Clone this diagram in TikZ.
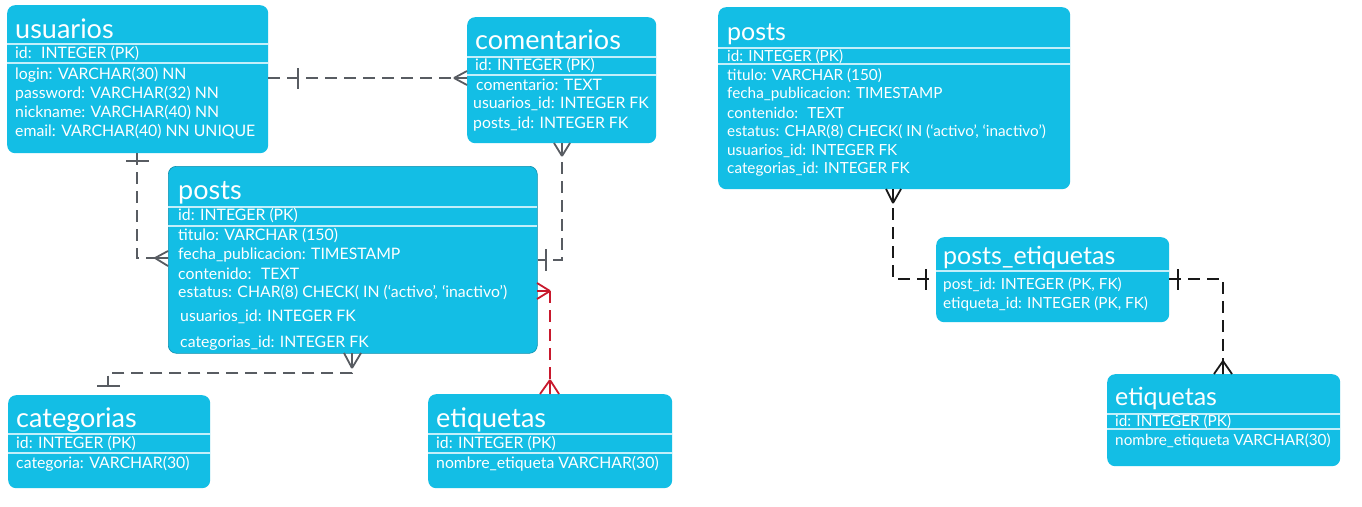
\documentclass[tikz,border=0pt]{standalone}
\usepackage{fontspec}
\setmainfont{Lato}
\usetikzlibrary{calc}
\definecolor{boxc}{RGB}{19,190,229}
\definecolor{sepc}{RGB}{195,239,250}
\definecolor{linec}{RGB}{88,92,98}
\definecolor{blk}{RGB}{25,25,25}
\definecolor{redc}{RGB}{200,25,45}
\begin{document}
\begin{tikzpicture}[x=1pt,y=-1pt,
  tbl/.style={fill=boxc, rounded corners=8pt, anchor=north west, inner sep=0pt},
  ttl/.style={anchor=base west, text=white, font=\fontsize{27}{27}\selectfont, inner sep=0pt},
  ttlr/.style={anchor=base west, text=white, font=\fontsize{25}{25}\selectfont, inner sep=0pt},
  fld/.style={anchor=west, text=white, font=\fontsize{15.8}{15.8}\selectfont, inner sep=0pt},
  fldr/.style={anchor=west, text=white, font=\fontsize{15.3}{15.3}\selectfont, inner sep=0pt},
  sepl/.style={draw=sepc, line width=1.3pt},
  conn/.style={draw=linec, line width=1.8pt, dash pattern=on 12pt off 7pt},
  tk/.style={draw=linec, line width=1.8pt},
  connk/.style={draw=blk, line width=1.8pt, dash pattern=on 12pt off 7pt},
  tkk/.style={draw=blk, line width=1.8pt},
  connr/.style={draw=redc, line width=1.8pt, dash pattern=on 12pt off 7pt},
  tkr/.style={draw=redc, line width=1.8pt}]
\fill[white] (0,0) rectangle (1362,506);
\useasboundingbox (0,0) rectangle (1362,506);

% ---------- left panel ----------
% usuarios
\node[tbl, minimum width=261pt, minimum height=148pt] (usu) at (7,5) {};
\draw[sepl] (7,44) -- (268,44);
\draw[sepl] (7,63) -- (268,63);
\node[ttl] (usuT) at (15,38) {usuarios};
\node[fld] (usu1) at (15,54) {id:~ INTEGER (PK)};
\node[fld] (usu2) at (15,75) {login: VARCHAR(30) NN};
\node[fld] (usu3) at (15,94) {password: VARCHAR(32) NN};
\node[fld] (usu4) at (15,113) {nickname: VARCHAR(40) NN};
\node[fld] (usu5) at (15,132) {email: VARCHAR(40) NN UNIQUE};

% comentarios
\node[tbl, minimum width=189pt, minimum height=126pt] (com) at (467,17) {};
\draw[sepl] (467,57) -- (656,57);
\draw[sepl] (467,75) -- (656,75);
\node[ttl] (comT) at (475,49) {comentarios};
\node[fld] (com1) at (475,66) {id: INTEGER (PK)};
\node[fld] (com2) at (476,85) {comentario: TEXT};
\node[fld] (com3) at (473,104) {usuarios\_id: INTEGER FK};
\node[fld] (com4) at (473,124) {posts\_id: INTEGER FK};

% posts
\node[tbl, draw=boxc!75!black, line width=0.6pt, minimum width=369pt, minimum height=187pt] (pos) at (168,166) {};
\draw[sepl] (168,207) -- (537,207);
\draw[sepl] (168,226) -- (537,226);
\node[ttl] (posT) at (178,199) {posts};
\node[fld] (pos1) at (178,216) {id: INTEGER (PK)};
\node[fld] (pos2) at (178,236) {titulo: VARCHAR (150)};
\node[fld] (pos3) at (178,255) {fecha\_publicacion: TIMESTAMP};
\node[fld] (pos4) at (178,274) {contenido:~ TEXT};
\node[fld] (pos5) at (178,293) {estatus: CHAR(8) CHECK( IN (‘activo’, ‘inactivo’)};
\node[fld] (pos6) at (180,317) {usuarios\_id: INTEGER FK};
\node[fld] (pos7) at (180,343) {categorias\_id: INTEGER FK};

% categorias
\node[tbl, minimum width=202pt, minimum height=93pt] (cat) at (8,395) {};
\draw[sepl] (8,434) -- (210,434);
\draw[sepl] (8,453) -- (210,453);
\node[ttl] (catT) at (16,427) {categorias};
\node[fld] (cat1) at (16,444) {id: INTEGER (PK)};
\node[fld] (cat2) at (16,464) {categoria: VARCHAR(30)};

% etiquetas (left)
\node[tbl, minimum width=244pt, minimum height=94pt] (eti) at (428,394) {};
\draw[sepl] (428,434) -- (672,434);
\draw[sepl] (428,453) -- (672,453);
\node[ttl] (etiT) at (436,427) {etiquetas};
\node[fld] (eti1) at (436,444) {id: INTEGER (PK)};
\node[fld] (eti2) at (436,464) {nombre\_etiqueta VARCHAR(30)};

% connectors (left)
\coordinate (y78) at (0,78);
\draw[conn] (usu.east |- y78) -- (com.west |- y78);
\draw[tk] (298,68) -- (298,89);
\draw[tk] (454,78) -- (467,71) (454,78) -- (467,85) (454,78) -- (467,78);

\coordinate (b1) at (137,258);
\draw[conn] (usu.south -| b1) -- (b1) -- (pos.west |- b1);
\draw[tk] (126,161) -- (149,161);
\draw[tk] (155,258) -- (168,251) (155,258) -- (168,266) (155,258) -- (168,258);

\coordinate (b2) at (562,260);
\draw[conn] (com.south -| b2) -- (b2) -- (pos.east |- b2);
\draw[tk] (562,156) -- (554,143) (562,156) -- (570,143) (562,156) -- (562,143);
\draw[tk] (546,249) -- (546,271);

\coordinate (b3) at (352,373);
\coordinate (b4) at (108,373);
\draw[conn] (pos.south -| b3) -- (b3) -- (b4) -- ([yshift=9pt]cat.north -| b4);
\draw[tk] (97,386) -- (120,386);
\draw[tk] (352,368) -- (344,353) (352,368) -- (361,353) (352,368) -- (352,353);

\coordinate (r1) at (550,291);
\draw[connr] (r1) -- (eti.north -| r1);
\draw[tkr] (550,291) -- (537,283) (550,291) -- (537,299) (550,291) -- (537,291);
\draw[tkr] (550,380) -- (540,394) (550,380) -- (559,394) (550,380) -- (550,394);

% ---------- right panel ----------
\node[tbl, minimum width=352pt, minimum height=182pt] (posR) at (718,7) {};
\draw[sepl] (718,48) -- (1070,48);
\draw[sepl] (718,64) -- (1070,64);
\node[ttlr] (posRT) at (727,40) {posts};
\node[fldr] (posR1) at (727,57) {id: INTEGER (PK)};
\node[fldr] (posR2) at (727,76) {titulo: VARCHAR (150)};
\node[fldr] (posR3) at (727,94) {fecha\_publicacion: TIMESTAMP};
\node[fldr] (posR4) at (727,113) {contenido:~ TEXT};
\node[fldr] (posR5) at (727,132) {estatus: CHAR(8) CHECK( IN (‘activo’, ‘inactivo’)};
\node[fldr] (posR6) at (727,151) {usuarios\_id: INTEGER FK};
\node[fldr] (posR7) at (727,169) {categorias\_id: INTEGER FK};

\node[tbl, minimum width=233pt, minimum height=85pt] (pe) at (936,237) {};
\draw[sepl] (936,271) -- (1169,271);
\node[ttlr] (peT) at (943,264) {posts\_etiquetas};
\node[fldr] (pe1) at (943,285) {post\_id: INTEGER (PK, FK)};
\node[fldr] (pe2) at (943,304) {etiqueta\_id: INTEGER (PK, FK)};

\node[tbl, minimum width=233pt, minimum height=92pt] (etiR) at (1107,374) {};
\draw[sepl] (1107,414) -- (1340,414);
\draw[sepl] (1107,429) -- (1340,429);
\node[ttlr] (etiRT) at (1115,405) {etiquetas};
\node[fldr] (etiR1) at (1115,422) {id: INTEGER (PK)};
\node[fldr] (etiR2) at (1115,441) {nombre\_etiqueta VARCHAR(30)};

\coordinate (b6) at (893,279);
\draw[connk] (posR.south -| b6) -- (b6) -- (pe.west |- b6);
\draw[tkk] (893,203) -- (886,189) (893,203) -- (901,189) (893,203) -- (893,189);
\draw[tkk] (926,269) -- (926,290);

\coordinate (b7) at (1223,279);
\draw[connk] (pe.east |- b7) -- (b7) -- (etiR.north -| b7);
\draw[tkk] (1178,269) -- (1178,290);
\draw[tkk] (1223,361) -- (1214,374) (1223,361) -- (1232,374) (1223,361) -- (1223,374);
\end{tikzpicture}
\end{document}
